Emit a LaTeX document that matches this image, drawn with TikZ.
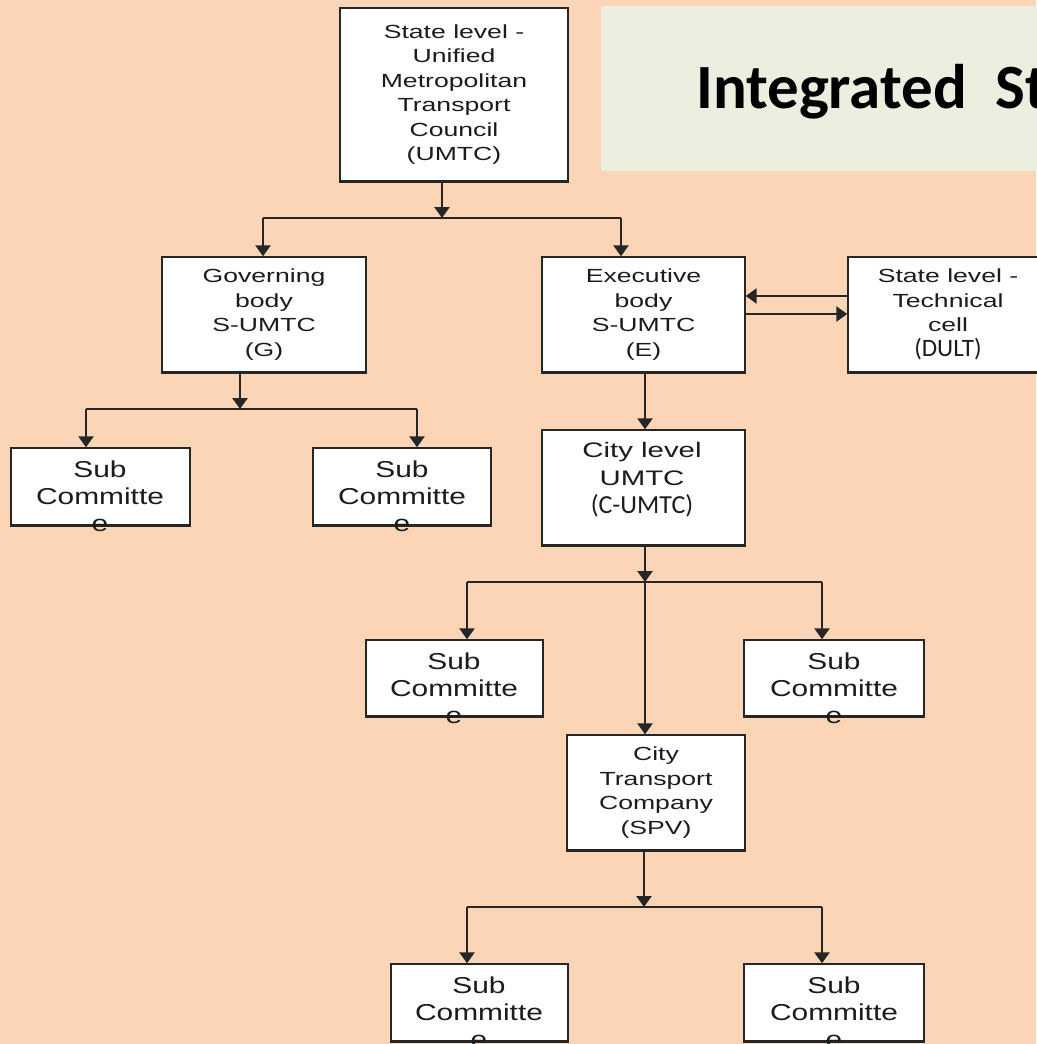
\documentclass[tikz,border=0pt]{standalone}
\usepackage{fontspec}
\setmainfont{Liberation Sans}
\newfontfamily\boxfont[FakeStretch=1.4]{Liberation Sans}
\newfontfamily\subfont[FakeStretch=1.3]{Liberation Sans}
\newfontfamily\calfont{Carlito}
\usetikzlibrary{arrows.meta}
\definecolor{bg}{RGB}{251,213,181}
\definecolor{titlebg}{RGB}{236,239,223}
\definecolor{linec}{RGB}{38,38,38}
\definecolor{txt}{RGB}{28,28,28}
\begin{document}
\begin{tikzpicture}[x=1pt,y=-1pt,
  box/.style={draw=linec, line width=1.4pt, fill=white, inner sep=0pt, align=center, text=txt,
              font=\boxfont\fontsize{19}{24.5}\selectfont},
  subbox/.style={draw=linec, line width=1.4pt, fill=white, minimum width=178pt, minimum height=77pt, inner sep=0pt},
  subtxt/.style={align=center, inner sep=0pt, text=txt, font=\subfont\fontsize{23}{27}\selectfont},
  conn/.style={line width=2.6pt, draw=linec},
  arr/.style={conn, -{Triangle[width=15pt,length=11pt]}},
  bottom/.style={line width=3.2pt, draw=linec}
  ]
\useasboundingbox (0,0) rectangle (1036,1044);
\fill[bg] (0,0) rectangle (1036,1044);
% title
\fill[titlebg, rounded corners=3pt] (601,6) rectangle (1070,171);
\node[anchor=base west, inner sep=0pt, text=black, font=\calfont\bfseries\fontsize{63}{70}\selectfont] (title) at (696,108) {Integrated\ \ St};

% main boxes
\node[box, minimum width=228pt, minimum height=173pt] (umtc) at (454,94.5)
  {State level -\\Unified\\Metropolitan\\Transport\\Council\\(UMTC)};
\node[box, minimum width=204pt, minimum height=115pt] (gov) at (264,314.5)
  {Governing\\body\\S-UMTC\\(G)};
\node[box, minimum width=203pt, minimum height=115pt] (exec) at (643.5,314.5)
  {Executive\\body\\S-UMTC\\(E)};
\node[box, minimum width=200pt, minimum height=115pt] (dult) at (948,314.5)
  {State level -\\Technical\\cell\\{\calfont\fontsize{25}{24.5}\selectfont (DULT)}};
\node[box, minimum width=203pt, minimum height=115pt] (city) at (643.5,487.5) {};
\node[align=center, inner sep=0pt, text=txt, font=\boxfont\fontsize{21}{28}\selectfont] (cityt) at (642,480)
  {City level\\UMTC\\{\calfont\fontsize{26}{28}\selectfont (C-UMTC)}};
\node[box, minimum width=178pt, minimum height=115pt] (ctc) at (656,792.5)
  {City\\Transport\\Company\\(SPV)};

% sub committee boxes
\node[subbox, minimum width=179pt] (sg1) at (100.5,486.5) {};
\node[subbox] (sg2) at (402,486.5) {};
\node[subbox, minimum width=177pt, minimum height=76pt] (sc1) at (454.5,678) {};
\node[subbox, minimum width=180pt, minimum height=76pt] (sc2) at (834,678) {};
\node[subbox, minimum width=177pt] (st1) at (479.5,1002.5) {};
\node[subbox, minimum width=180pt] (st2) at (834,1002.5) {};

\foreach \n in {umtc,gov,exec,dult,city,ctc,sg1,sg2,sc1,sc2,st1,st2}
  \draw[bottom] (\n.south west) -- (\n.south east);

\node[subtxt] (sg1t) at (100,496) {Sub\\Committe\\e};
\node[subtxt] (sg2t) at (402,496) {Sub\\Committe\\e};
\node[subtxt] (sc1t) at (454,688) {Sub\\Committe\\e};
\node[subtxt] (sc2t) at (834,688) {Sub\\Committe\\e};
\node[subtxt] (st1t) at (479,1012) {Sub\\Committe\\e};
\node[subtxt] (st2t) at (834,1012) {Sub\\Committe\\e};

% connectors: UMTC
\coordinate (j1) at (442,218);
\coordinate (j1l) at (263,218);
\coordinate (j1r) at (621,218);
\draw[arr] (umtc.south -| j1) -- (j1);
\draw[conn] (j1l) -- (j1r);
\draw[arr] (j1l) -- (j1l |- gov.north);
\draw[arr] (j1r) -- (j1r |- exec.north);

% Governing body
\coordinate (j2) at (240,409);
\coordinate (j2l) at (86,409);
\coordinate (j2r) at (417,409);
\draw[arr] (gov.south -| j2) -- (j2);
\draw[conn] (j2l) -- (j2r);
\draw[arr] (j2l) -- (j2l |- sg1.north);
\draw[arr] (j2r) -- (j2r |- sg2.north);

% Executive <-> technical cell
\coordinate (eu) at (745,296);
\coordinate (el) at (745,314);
\draw[arr] (dult.west |- eu) -- (exec.east |- eu);
\draw[arr] (exec.east |- el) -- (dult.west |- el);

% Executive -> City level
\coordinate (x1) at (645,0);
\draw[arr] (exec.south -| x1) -- (city.north -| x1);

% City level
\coordinate (j3) at (645,582);
\coordinate (j3l) at (467,582);
\coordinate (j3r) at (822,582);
\draw[arr] (city.south -| j3) -- (j3);
\draw[conn] (j3l) -- (j3r);
\draw[arr] (j3l) -- (j3l |- sc1.north);
\draw[arr] (j3r) -- (j3r |- sc2.north);
\draw[arr] (j3) -- (j3 |- ctc.north);

% City Transport Company
\coordinate (j4) at (644,907);
\coordinate (j4l) at (467,907);
\coordinate (j4r) at (822,907);
\draw[arr] (ctc.south -| j4) -- (j4);
\draw[conn] (j4l) -- (j4r);
\draw[arr] (j4l) -- (j4l |- st1.north);
\draw[arr] (j4r) -- (j4r |- st2.north);
\end{tikzpicture}
\end{document}
